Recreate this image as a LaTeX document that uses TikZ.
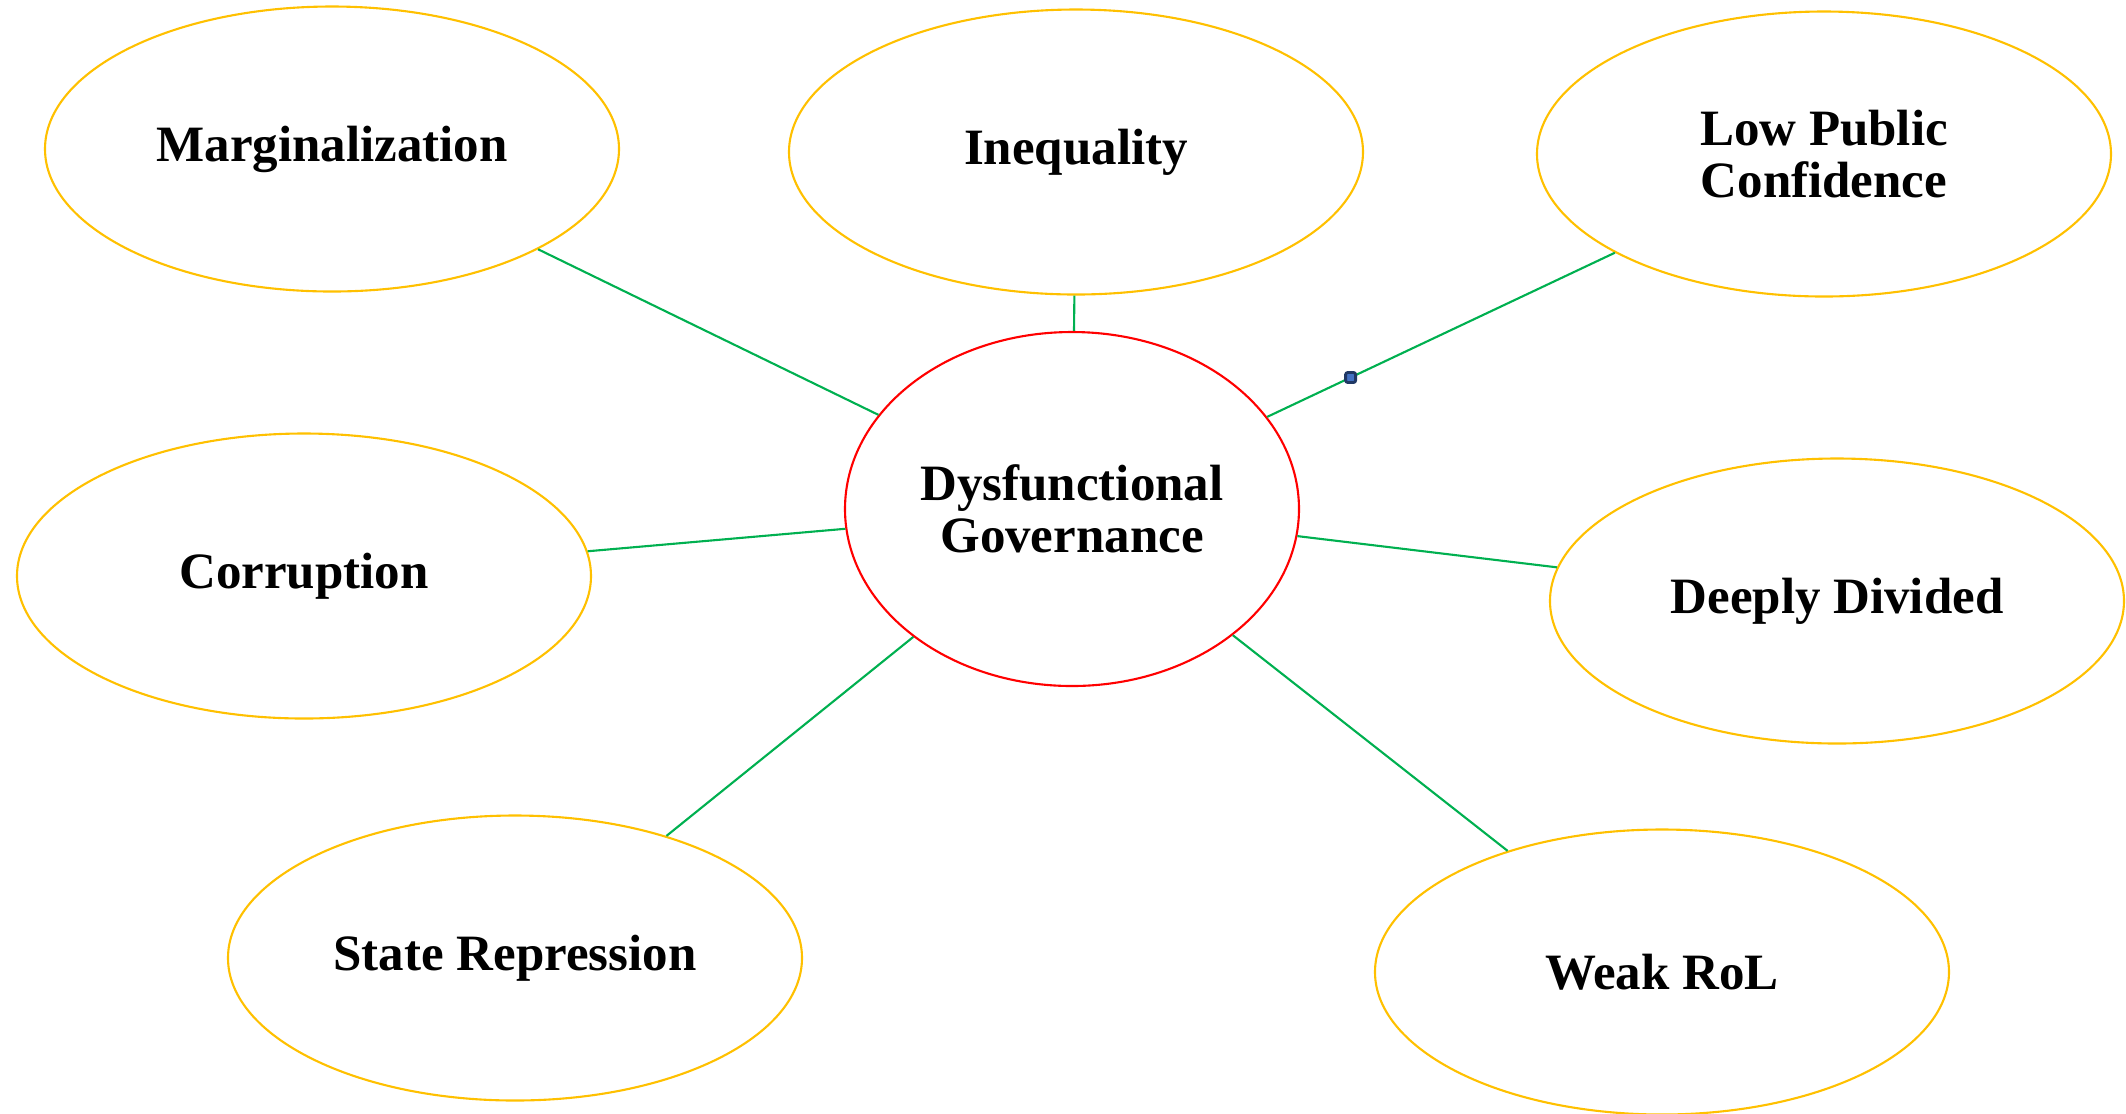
\documentclass[tikz,border=0pt]{standalone}
\usepackage{fontspec}
\setmainfont{Liberation Serif}
\usetikzlibrary{shapes.geometric}
\definecolor{bubble}{HTML}{FFC000}
\definecolor{core}{HTML}{FF0000}
\definecolor{link}{HTML}{00B050}
\definecolor{handlefill}{HTML}{4472C4}
\definecolor{handledraw}{HTML}{203864}
\begin{document}
\begin{tikzpicture}
    \tikzstyle{factor}=[ellipse, draw=bubble, line width=0.6pt, minimum width=5.74cm, minimum height=2.85cm, inner sep=0, align=center, font=\fontsize{14.5}{14.8}\selectfont\bfseries]
    \tikzstyle{core}=[factor, draw=core, minimum width=4.54cm, minimum height=3.54cm]
    \tikzstyle{link}=[draw=link, line width=0.6pt]
    \tikzstyle{handle}=[rectangle, draw=handledraw, fill=handlefill, line width=0.8pt, minimum size=0.1cm, inner sep=0, rounded corners=0.6pt]

    \useasboundingbox (0,0) rectangle (21.26,-11.13);

    \node[core] (gov) at (10.72,-5.09) {Dysfunctional\\Governance};
    \node[factor] (marg) at (3.32,-1.49) {Marginalization};
    \node[factor] (ineq) at (10.76,-1.52) {Inequality};
    \node[factor] (conf) at (18.24,-1.54) {Low Public\\Confidence};
    \node[factor] (corr) at (3.04,-5.76) {Corruption};
    \node[factor] (div) at (18.37,-6.01) {Deeply Divided};
    \node[factor] (rep) at (5.15,-9.58) {State Repression};
    \node[factor] (rol) at (16.62,-9.72) {Weak RoL};

    \path (gov) edge[link] (marg);
    \path (gov) edge[link] (ineq);
    \path (gov) edge[link] node[handle, pos=0.24] {} (conf);
    \path (gov) edge[link] (corr);
    \path (gov) edge[link] (div);
    \path (gov) edge[link] (rep);
    \path (gov) edge[link] (rol);
\end{tikzpicture}
\end{document}
